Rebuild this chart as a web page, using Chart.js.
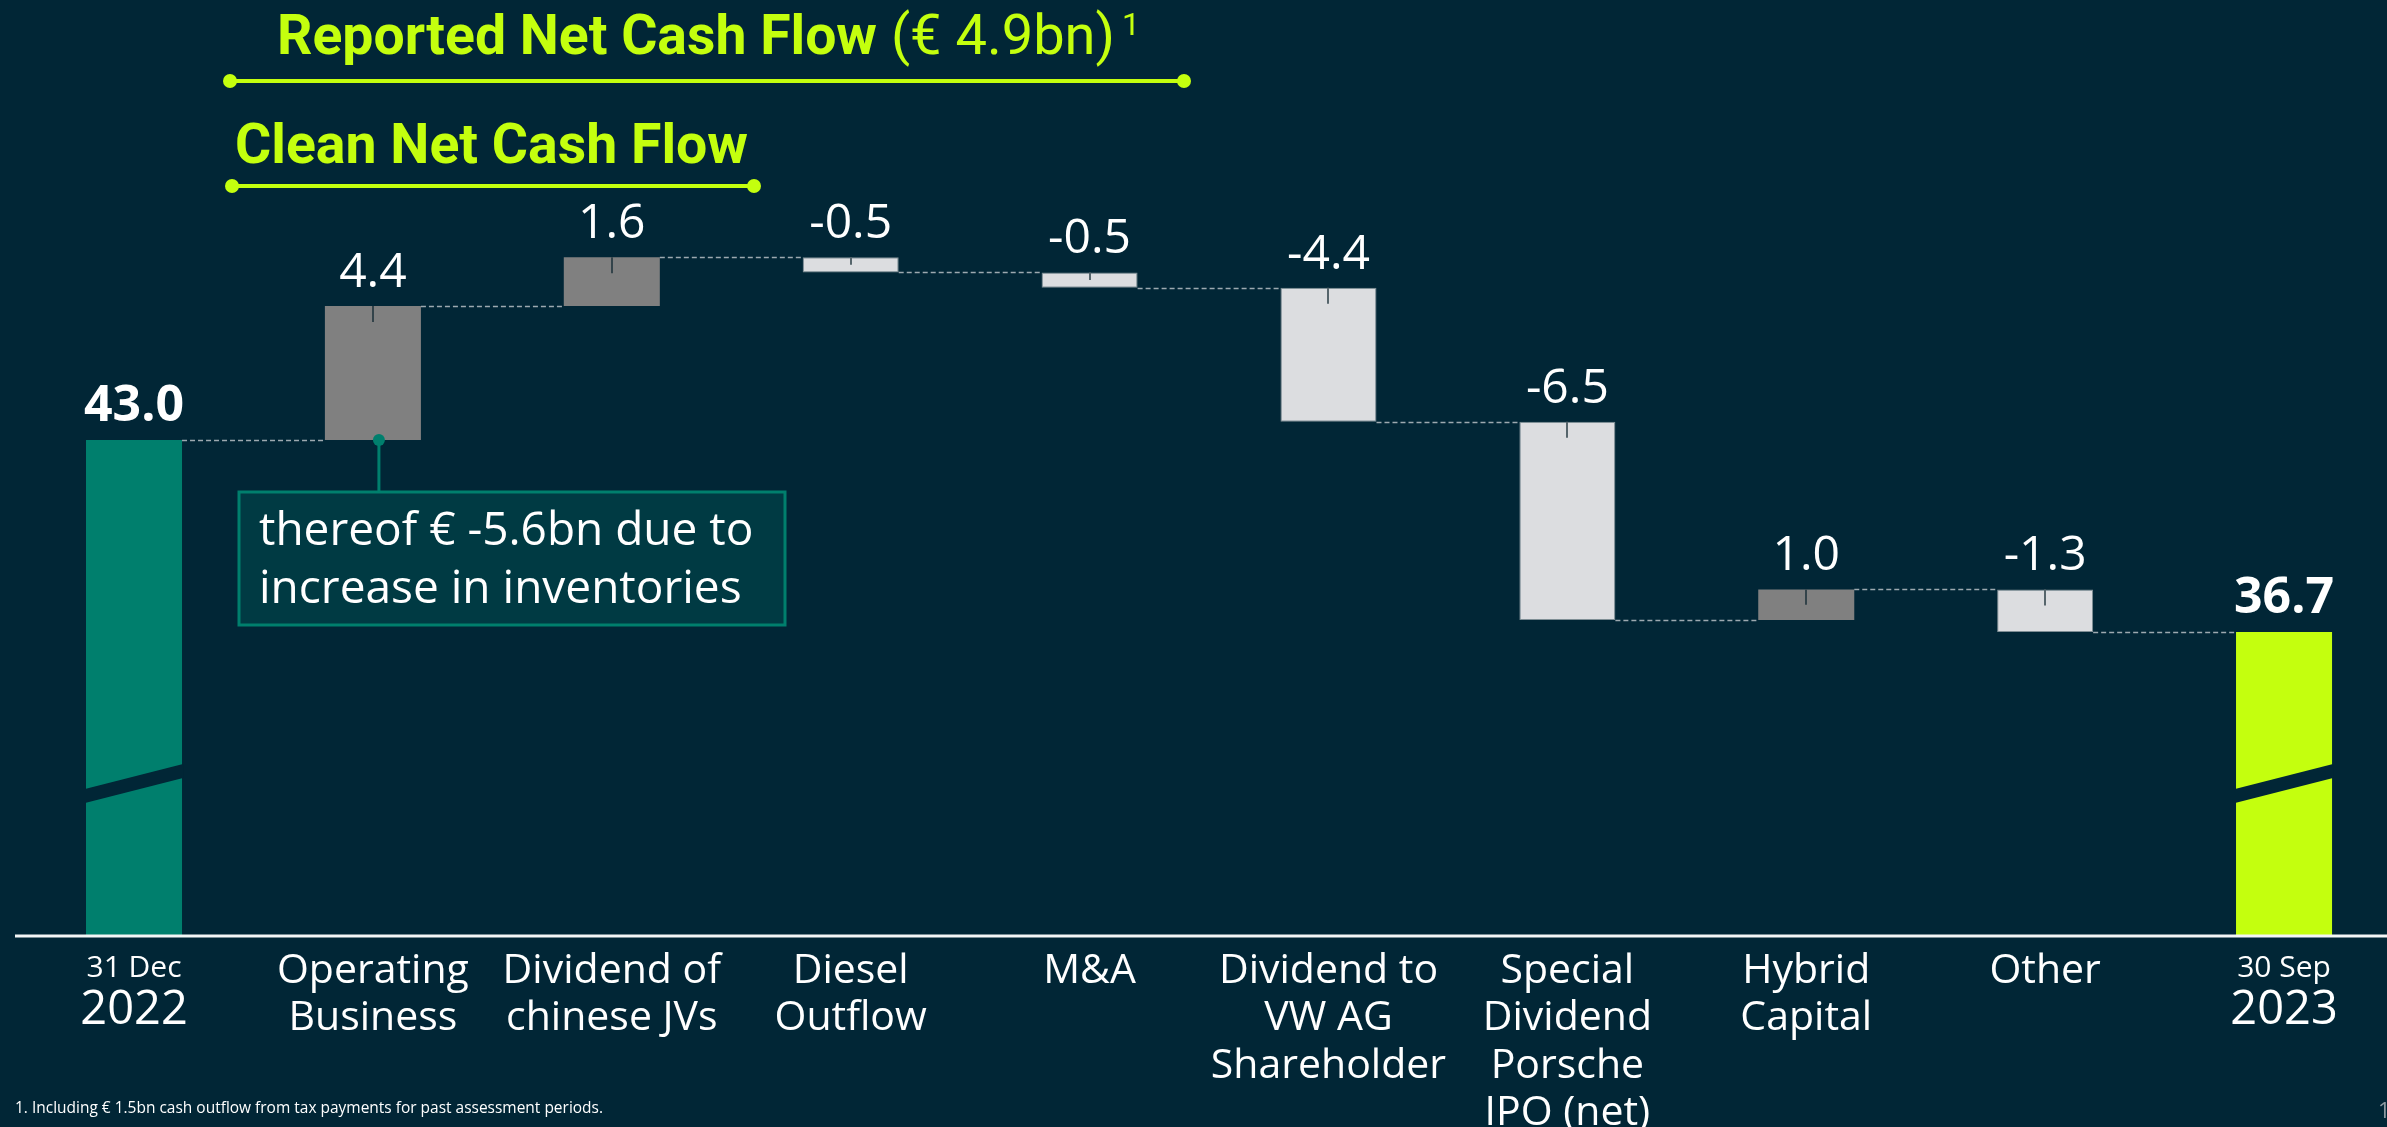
<!DOCTYPE html>
<html><head><meta charset="utf-8">
<script src="https://cdn.jsdelivr.net/npm/chart.js@4.4.1/dist/chart.umd.min.js"></script>
<style>html,body{margin:0;padding:0;background:#012636;overflow:hidden}canvas{display:block}</style>
</head><body>
<canvas id="c" width="2387" height="1127"></canvas>
<script>
// ---------------- data ----------------
const categories = [
  ["31 Dec", "2022"],
  ["Operating", "Business"],
  ["Dividend of", "chinese JVs"],
  ["Diesel", "Outflow"],
  ["M&A"],
  ["Dividend to", "VW AG", "Shareholder"],
  ["Special", "Dividend", "Porsche", "IPO (net)"],
  ["Hybrid", "Capital"],
  ["Other"],
  ["30 Sep", "2023"]
];
const startTotal = 43.0;
const deltas = [4.4, 1.6, -0.5, -0.5, -4.4, -6.5, 1.0, -1.3];
const endTotal = 36.7;
const yAxisMin = 26.76;
const yAxisMax = 57.44;
const xAxisMin = -0.561;
const xAxisMax = 9.431;

// ---------------- styles ----------------
const BG = '#012636';
const TEAL = '#007f6d';
const LIME = '#c4ff0e';
const POS = '#808080';
const NEG = '#dcdde0';

// waterfall ranges built from the values above
const ranges = [[yAxisMin, startTotal]];
let level = startTotal;
deltas.forEach((d, i) => {
  const next = i === deltas.length - 1 ? endTotal : +(level + d).toFixed(1);
  ranges.push([level, next]);
  level = next;
});
ranges.push([yAxisMin, endTotal]);
const values = [startTotal, ...deltas, endTotal];

const colors = values.map((v, i) => i === 0 ? TEAL : i === values.length - 1 ? LIME : (v >= 0 ? POS : NEG));
const borderColors = values.map((v, i) => (i > 0 && i < values.length - 1 && v < 0) ? '#7f8e95' : 'rgba(0,0,0,0)');
const borderWidths = values.map((v, i) => (i > 0 && i < values.length - 1 && v < 0) ? 1 : 0);

const wf = {
  id: 'wf',
  afterDatasetsDraw(chart) {
    const { ctx, chartArea, scales: { x, y } } = chart;
    const bars = chart.getDatasetMeta(0).data;
    ctx.save();
    // dashed connectors
    ctx.strokeStyle = 'rgba(185,193,198,0.85)';
    ctx.lineWidth = 1.5;
    ctx.setLineDash([5, 3]);
    for (let i = 0; i < bars.length - 1; i++) {
      const py = Math.round(y.getPixelForValue(ranges[i][1])) + 0.5;
      const x1 = bars[i].x + bars[i].width / 2;
      const x2 = bars[i + 1].x - bars[i + 1].width / 2;
      ctx.beginPath(); ctx.moveTo(x1, py); ctx.lineTo(x2, py); ctx.stroke();
    }
    ctx.setLineDash([]);
    // small marks at the top of the delta bars
    for (let i = 1; i < bars.length - 1; i++) {
      const top = y.getPixelForValue(Math.max(...ranges[i]));
      const bot = y.getPixelForValue(Math.min(...ranges[i]));
      const len = Math.min(16, (bot - top) / 2);
      ctx.strokeStyle = values[i] >= 0 ? '#33434a' : '#56656c';
      ctx.lineWidth = 2;
      ctx.beginPath(); ctx.moveTo(Math.round(bars[i].x), top); ctx.lineTo(Math.round(bars[i].x), top + len); ctx.stroke();
    }
    // axis breaks on the total bars
    const b = chartArea.bottom;
    [0, bars.length - 1].forEach(i => {
      const l = bars[i].x - bars[i].width / 2 - 1, r = bars[i].x + bars[i].width / 2 + 1;
      ctx.fillStyle = BG;
      ctx.beginPath();
      ctx.moveTo(l, b - 146); ctx.lineTo(r, b - 171); ctx.lineTo(r, b - 157); ctx.lineTo(l, b - 132);
      ctx.closePath(); ctx.fill();
    });
    // value labels
    ctx.fillStyle = '#ffffff';
    ctx.textAlign = 'center';
    ctx.textBaseline = 'alphabetic';
    for (let i = 0; i < bars.length; i++) {
      const top = y.getPixelForValue(Math.max(...ranges[i]));
      const total = i === 0 || i === bars.length - 1;
      ctx.font = total ? 'bold 50px "Open Sans"' : '48px "Open Sans"';
      ctx.fillText(values[i].toFixed(1), bars[i].x, top - 19);
    }
    ctx.restore();
  },
  afterDraw(chart) {
    const { ctx, chartArea, scales: { x, y } } = chart;
    ctx.save();
    // axis line
    ctx.strokeStyle = '#f4f6f6';
    ctx.lineWidth = 3;
    ctx.beginPath(); ctx.moveTo(15, chartArea.bottom + 1); ctx.lineTo(chart.width, chartArea.bottom + 1); ctx.stroke();

    // date labels for the totals
    ctx.fillStyle = '#ffffff';
    ctx.textAlign = 'center';
    ctx.textBaseline = 'alphabetic';
    [0, categories.length - 1].forEach(i => {
      const cx = x.getPixelForValue(i);
      ctx.font = '30px "Open Sans"';
      ctx.fillText(categories[i][0], cx, chartArea.bottom + 42, 104);
      ctx.font = '47px "Open Sans"';
      ctx.fillText(categories[i][1], cx, chartArea.bottom + 89);
    });

    // titles with brackets
    ctx.textAlign = 'left';
    ctx.fillStyle = LIME;
    ctx.font = 'bold 56px Roboto';
    ctx.fillText('Reported Net Cash Flow', 277, 54, 600);
    const w = Math.min(ctx.measureText('Reported Net Cash Flow').width, 600);
    ctx.font = '56px Roboto';
    ctx.fillText(' (€ 4.9bn)', 277 + w, 54);
    ctx.font = '32px Roboto';
    ctx.fillText('1', 1122, 35);
    ctx.font = 'bold 56px Roboto';
    ctx.fillText('Clean Net Cash Flow', 235, 163, 513);

    ctx.strokeStyle = LIME;
    ctx.lineWidth = 4;
    [[230, 1184, 81], [232, 754, 186]].forEach(([a, c, yy]) => {
      ctx.beginPath(); ctx.moveTo(a, yy); ctx.lineTo(c, yy); ctx.stroke();
      ctx.beginPath(); ctx.arc(a, yy, 7, 0, Math.PI * 2); ctx.fill();
      ctx.beginPath(); ctx.arc(c, yy, 7, 0, Math.PI * 2); ctx.fill();
    });

    // annotation for operating business
    const ax = x.getPixelForValue(1) + 6;
    const ay = y.getPixelForValue(startTotal);
    ctx.strokeStyle = TEAL;
    ctx.lineWidth = 3;
    ctx.beginPath(); ctx.moveTo(ax, ay); ctx.lineTo(ax, 491); ctx.stroke();
    ctx.fillStyle = TEAL;
    ctx.beginPath(); ctx.arc(ax, ay, 6, 0, Math.PI * 2); ctx.fill();
    ctx.fillStyle = '#003a43';
    ctx.fillRect(239, 492, 546, 133);
    ctx.strokeRect(239, 492, 546, 133);
    ctx.fillStyle = '#ffffff';
    ctx.font = '46px "Open Sans"';
    ctx.fillText('thereof € -5.6bn due to', 259, 545, 500);
    ctx.fillText('increase in inventories', 259, 603, 500);

    // footnote & page number
    ctx.font = '16px "Open Sans"';
    ctx.fillStyle = '#ffffff';
    ctx.fillText('1. Including € 1.5bn cash outflow from tax payments for past assessment periods.', 15, 1113, 588);
    ctx.fillStyle = '#8d9aa1';
    ctx.font = '22px "Open Sans"';
    ctx.fillText('1', 2378, 1118);
    ctx.restore();
  }
};

new Chart(document.getElementById('c').getContext('2d'), {
  type: 'bar',
  data: {
    datasets: [{
      data: ranges.map((r, i) => ({ x: i, y: r })),
      backgroundColor: colors,
      borderColor: borderColors,
      borderWidth: borderWidths,
      borderSkipped: false,
      barPercentage: 0.402,
      categoryPercentage: 1
    }]
  },
  options: {
    responsive: false,
    animation: false,
    devicePixelRatio: 1,
    layout: { padding: 0 },
    plugins: { legend: { display: false }, tooltip: { enabled: false } },
    scales: {
      x: {
        type: 'linear', min: xAxisMin, max: xAxisMax, offset: false,
        grid: { display: false, drawTicks: false },
        border: { display: false },
        afterBuildTicks: s => { s.ticks = categories.map((_, i) => ({ value: i })); },
        afterFit: s => { s.height = 192; },
        ticks: {
          autoSkip: false, maxRotation: 0, minRotation: 0, padding: 13,
          color: '#ffffff',
          font: { family: 'Open Sans', size: 41, lineHeight: 1.15 },
          callback: v => { const i = Math.round(v); return (i === 0 || i === categories.length - 1) ? '' : categories[i]; }
        }
      },
      y: { display: false, min: yAxisMin, max: yAxisMax }
    }
  },
  plugins: [wf]
});
</script>
</body></html>
